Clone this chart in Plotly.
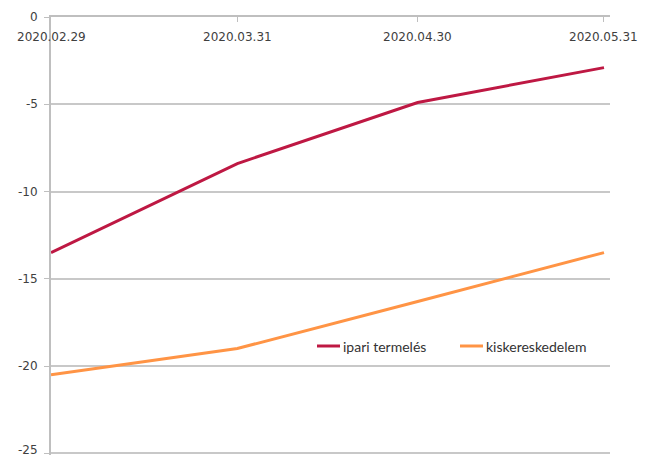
import plotly.graph_objects as go

dates = ["2020-02-29", "2020-03-31", "2020-04-30", "2020-05-31"]
date_labels = ["2020.02.29", "2020.03.31", "2020.04.30", "2020.05.31"]
ipari = [-13.5, -8.4, -4.9, -2.9]
kisker = [-20.5, -19.0, -16.3, -13.5]
series_names = ["ipari termelés", "kiskereskedelem"]
colors = ["#BE1843", "#FF9445"]
y_ticks = [0, -5, -10, -15, -20, -25]

# page has an 8px body margin; figure coordinates = page - 8
OFF = 8
FW, FH = 638, 450
ML, MR, MT, MB = 51 - OFF, 36, 17 - OFF, 3
H = FH - MT - MB
W = FW - ML - MR

def py(y):
    return 1 - (y - 17) / H
def px(x):
    return (x - 51) / W

fig = go.Figure()
fig.add_trace(go.Scatter(x=dates, y=ipari, mode="lines", name=series_names[0],
                         line=dict(color=colors[0], width=3)))
fig.add_trace(go.Scatter(x=dates, y=kisker, mode="lines", name=series_names[1],
                         line=dict(color=colors[1], width=3)))

# x tick labels below the top axis line
for d, lab in zip(dates, date_labels):
    fig.add_annotation(xref="x", yref="paper", x=d, y=py(37), text=lab,
                       showarrow=False, xanchor="center", yanchor="middle",
                       font=dict(family="DejaVu Sans", size=12, color="#404040"))

# y tick labels as annotations (so the bottom one is not dropped)
for v in y_ticks:
    fig.add_annotation(xref="paper", yref="y", x=px(40), y=v, text=str(v),
                       showarrow=False, xanchor="right", yanchor="middle",
                       yshift=3 if v == y_ticks[-1] else 0,
                       font=dict(family="DejaVu Sans", size=12, color="#404040"))
# bottom gridline at range floor
fig.add_shape(type="line", xref="paper", yref="y", x0=0, x1=1, y0=y_ticks[-1], y1=y_ticks[-1],
              line=dict(color="#C8C8C8", width=1.5), layer="below")

# custom legend (paper coords)
leg_y = py(346)
items = [(317, 340, series_names[0], colors[0]), (460, 483, series_names[1], colors[1])]
for x0, x1, name, c in items:
    fig.add_shape(type="line", xref="paper", yref="paper", x0=px(x0), x1=px(x1),
                  y0=leg_y, y1=leg_y, line=dict(color=c, width=3))
    fig.add_annotation(xref="paper", yref="paper", x=px(x1 + 1), y=leg_y, text=name,
                       showarrow=False, xanchor="left", yanchor="middle",
                       font=dict(family="Lato", size=14, color="#333333"))

fig.update_layout(
    width=FW, height=FH,
    margin=dict(l=ML, r=MR, t=MT, b=MB),
    paper_bgcolor="white", plot_bgcolor="white",
    showlegend=False,
    font=dict(family="DejaVu Sans", size=12, color="#404040"),
)
fig.update_xaxes(
    type="date", range=["2020-02-29", "2020-06-01"],
    side="top", tickvals=dates, showticklabels=False,
    ticks="inside", ticklen=5, tickcolor="#BFBFBF",
    showline=True, linecolor="#BFBFBF", linewidth=1.5,
    showgrid=False, zeroline=False, automargin=False,
)
fig.update_yaxes(
    range=[-25.1, 0], tickvals=y_ticks, showticklabels=False,
    showline=True, linecolor="#BFBFBF", linewidth=1.5,
    showgrid=True, gridcolor="#C8C8C8", gridwidth=1.5,
    ticks="outside", ticklen=5, tickcolor="#BFBFBF",
    zeroline=False, automargin=False,
)
fig.write_html("out.html")
